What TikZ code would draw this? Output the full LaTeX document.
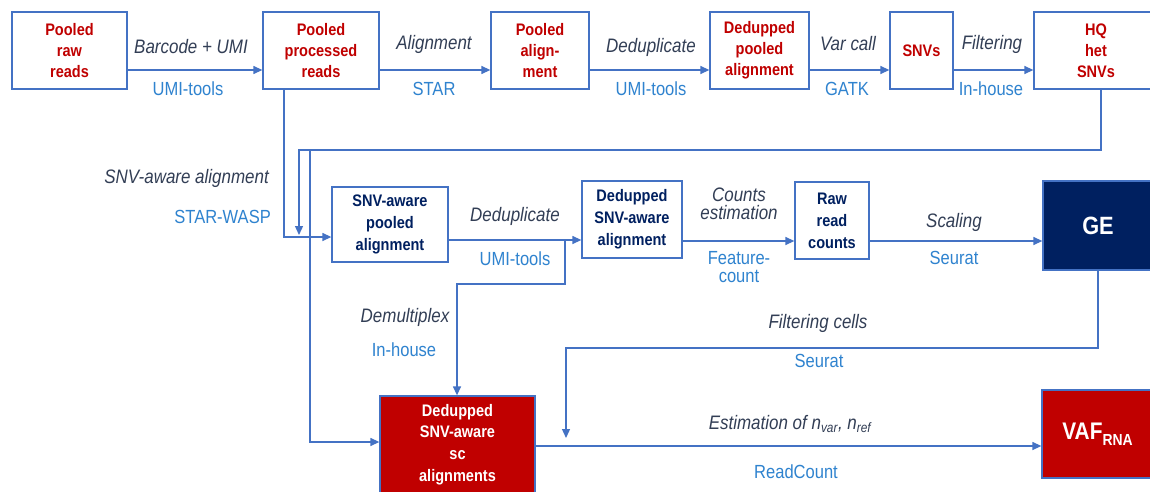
\documentclass[tikz,border=0pt]{standalone}
\usepackage{fontspec}
\setmainfont{Liberation Sans}[FakeStretch=0.87]
\usetikzlibrary{arrows.meta}
\definecolor{bline}{HTML}{4472C4}
\definecolor{redtext}{HTML}{C00000}
\definecolor{navy}{HTML}{002060}
\definecolor{labgray}{HTML}{323E55}
\definecolor{toolblue}{HTML}{2F83CF}
\begin{document}
\begin{tikzpicture}[x=1pt,y=-1pt,
  box/.style={draw=bline, line width=1.3pt, fill=white, align=center, inner sep=0pt,
    font=\fontsize{16.7}{21}\selectfont\bfseries, text=redtext},
  topbox/.style={box, minimum height=77pt},
  navytext/.style={box, text=navy, font=\fontsize{16.7}{22}\selectfont\bfseries},
  lab/.style={font=\fontsize{19.5}{18}\selectfont\itshape, text=labgray, align=center, inner sep=0pt},
  tool/.style={font=\fontsize{19}{18}\selectfont, text=toolblue, align=center, inner sep=0pt},
  ln/.style={draw=bline, line width=1.3pt},
  arr/.style={ln, -{Triangle[length=9pt,width=8pt]}}]
\clip (0,0) rectangle (1150,492);
\fill[white] (0,0) rectangle (1150,492);
% top row
\node[topbox, minimum width=115pt] (raw) at (69.5,50.5) {Pooled\\raw\\reads};
\node[topbox, minimum width=116pt] (proc) at (321,50.5) {Pooled\\processed\\reads};
\node[topbox, minimum width=98pt] (palign) at (540,50.5) {Pooled\\align-\\ment};
\node[topbox, minimum width=99pt] (dedup) at (759.5,50.5) {Dedupped\\pooled\\alignment};
\node[topbox, minimum width=63pt] (snvs) at (921.5,50.5) {SNVs};
\node[topbox, minimum width=124pt] (hq) at (1096,50.5) {HQ\\het\\SNVs};
% row 2
\node[navytext, minimum width=116pt, minimum height=75pt] (snvaln) at (390,224.5) {SNV-aware\\pooled\\alignment};
\node[navytext, minimum width=100pt, minimum height=77pt] (dsnv) at (632,219.5) {Dedupped\\SNV-aware\\alignment};
\node[navytext, minimum width=74pt, minimum height=77pt] (rawc) at (832,220.5) {Raw\\read\\counts};
\node[box, fill=navy, text=white, minimum width=110pt, minimum height=89pt,
  font=\fontsize{25}{26}\selectfont\bfseries] (ge) at (1098,225.5) {GE};
% row 3
\node[box, fill=redtext, text=white, minimum width=155pt, minimum height=97pt,
  font=\fontsize{16.7}{21.7}\selectfont\bfseries] (sc) at (457.5,444.5) {Dedupped\\SNV-aware\\sc\\alignments};
\node[box, fill=redtext, text=white, minimum width=111pt, minimum height=88pt,
  font=\fontsize{24}{26}\selectfont\bfseries] (vaf) at (1097.5,434)
  {VAF\raisebox{-0.45ex}{\fontsize{16}{16}\selectfont RNA}};
% top row connectors
\coordinate (t) at (0,70);
\draw[arr] (raw.east |- t) -- (proc.west |- t);
\draw[arr] (proc.east |- t) -- (palign.west |- t);
\draw[arr] (palign.east |- t) -- (dedup.west |- t);
\draw[arr] (dedup.east |- t) -- (snvs.west |- t);
\draw[arr] (snvs.east |- t) -- (hq.west |- t);
\node[lab] (l1) at (191,47) {Barcode + UMI};
\node[tool] (u1) at (188,89) {UMI-tools};
\node[lab] (l2) at (434,44) {Alignment};
\node[tool] (u2) at (434,89) {STAR};
\node[lab] (l3) at (651,47) {Deduplicate};
\node[tool] (u3) at (651,89) {UMI-tools};
\node[lab] (l4) at (848,44) {Var call};
\node[tool] (u4) at (847,89) {GATK};
\node[lab] (l5) at (992,44) {Filtering};
\node[tool] (u5) at (991,89) {In-house};
% feedback from HQ SNVs
\coordinate (hqturn) at (1101,150);
\coordinate (retL) at (299,150);
\coordinate (retTip) at (299,235);
\coordinate (br) at (310,150);
\coordinate (scin) at (310,442);
\draw[arr] (hq.south -| hqturn) -- (hqturn) -- (retL) -- (retTip);
\draw[arr] (br) -- (scin) -- (sc.west |- scin);
% pooled processed reads down
\coordinate (procturn) at (284,237);
\draw[arr] (proc.south -| procturn) -- (procturn) -- (snvaln.west |- procturn);
\node[lab, anchor=east] (l6) at (269,178) {SNV-aware alignment};
\node[tool, anchor=east] (u6) at (271,217) {STAR-WASP};
% row 2 connectors
\coordinate (r2) at (0,240);
\coordinate (r2b) at (0,241);
\draw[arr] (snvaln.east |- r2) -- (dsnv.west |- r2);
\draw[arr] (dsnv.east |- r2b) -- (rawc.west |- r2b);
\draw[arr] (rawc.east |- r2b) -- (ge.west |- r2b);
\node[lab] (l7) at (515,216) {Deduplicate};
\node[tool] (u7) at (515,259) {UMI-tools};
\node[lab] (l8) at (739,204) {Counts\\estimation};
\node[tool] (u8) at (739,267) {Feature-\\count};
\node[lab] (l9) at (954,222) {Scaling};
\node[tool] (u9) at (954,258) {Seurat};
% demultiplex
\coordinate (dm1) at (565,240);
\coordinate (dm2) at (565,284);
\coordinate (dm3) at (457,284);
\draw[arr] (dm1) -- (dm2) -- (dm3) -- (sc.north -| dm3);
\node[lab] (l10) at (405,317) {Demultiplex};
\node[tool] (u10) at (404,350) {In-house};
% filtering cells
\coordinate (f1) at (1098,348);
\coordinate (f2) at (566,348);
\coordinate (ftip) at (566,438);
\draw[arr] (ge.south -| f1) -- (f1) -- (f2) -- (ftip);
\node[lab] (l11) at (818,323) {Filtering cells};
\node[tool] (u11) at (819,361) {Seurat};
% estimation
\coordinate (r3) at (0,446);
\draw[arr] (sc.east |- r3) -- (vaf.west |- r3);
\node[lab] (l12) at (790,424) {Estimation of n\textsubscript{var}, n\textsubscript{ref}};
\node[tool] (u12) at (796,472) {ReadCount};
\end{tikzpicture}
\end{document}
